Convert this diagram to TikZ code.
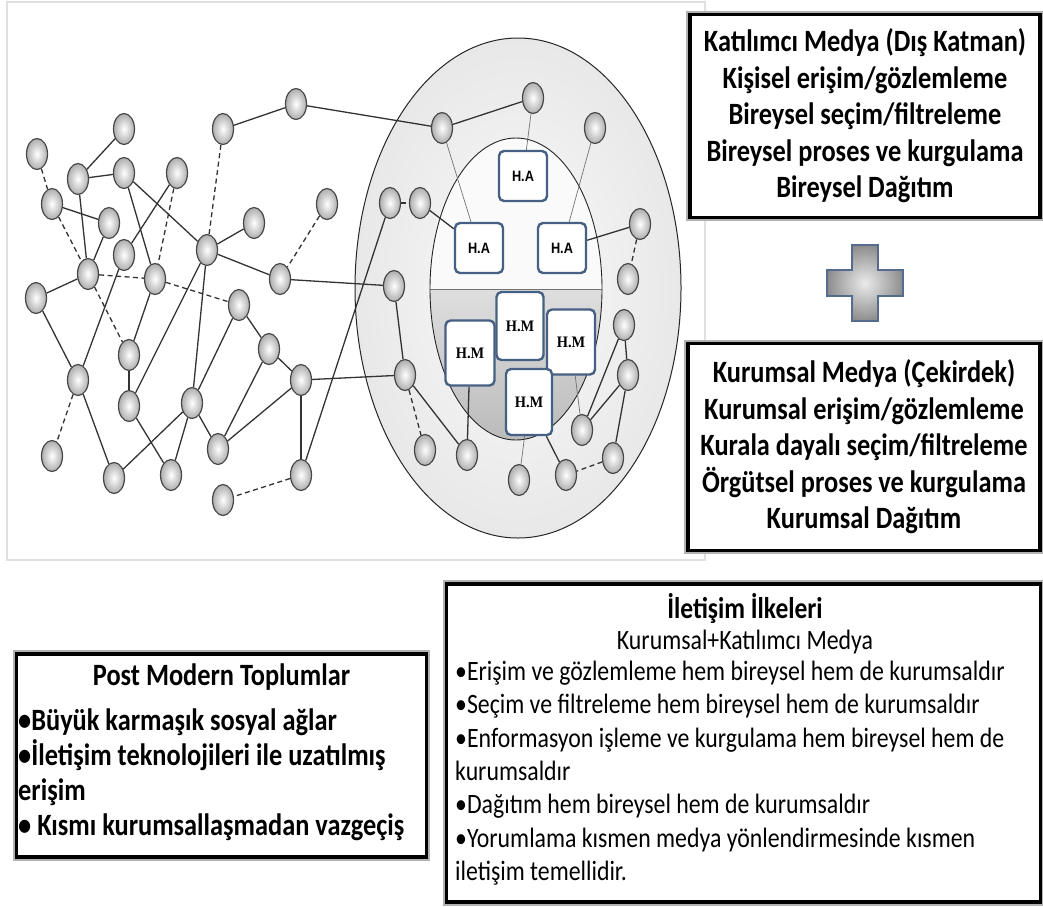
\documentclass[tikz,border=0pt]{standalone}
\usepackage{fontspec}
\setmainfont{Carlito}[FakeStretch=0.85]
\newfontfamily\hafont{Liberation Sans}[FakeStretch=0.85]
\newfontfamily\hmfont{Liberation Serif}[FakeStretch=0.9]
\usetikzlibrary{shapes.geometric}
\pgfdeclarelayer{back}
\pgfdeclarelayer{links}
\pgfsetlayers{back,links,main}
\definecolor{hborder}{RGB}{70,96,132}
\definecolor{plusborder}{RGB}{84,108,142}

\begin{document}
\begin{tikzpicture}[x=1pt,y=-1pt,
  peer/.style={ellipse,draw=black!72,line width=1.2pt,inner color=white,outer color=black!32,minimum width=21pt,minimum height=31pt,inner sep=0pt},
  link/.style={draw=black!80,line width=1.3pt},
  weak/.style={link,dash pattern=on 5pt off 3.5pt},
  faint/.style={draw=black!55,line width=0.7pt},
  habox/.style={draw=hborder,line width=2.4pt,rounded corners=5pt,fill=white,minimum width=48pt,minimum height=50pt,inner sep=0pt,font=\hafont\bfseries\fontsize{15}{15}\selectfont},
  hmbox/.style={habox,minimum height=65pt,font=\hmfont\bfseries\fontsize{16}{16}\selectfont},
  infobox/.style={draw=black,line width=3.2pt,preaction={draw=black!30,line width=7.5pt},fill=white,inner sep=0pt},
  boxtext/.style={font=\bfseries\fontsize{31}{36.5}\selectfont,align=center}]
\useasboundingbox (0,0) rectangle (1043,906);
\begin{pgfonlayer}{back}
\fill[white] (0,0) rectangle (1043,906);
\path[fill=white,draw=black!12,line width=1.5pt] (7,2) rectangle (705,560);
\path[inner color=black!2,outer color=black!9,draw=black!85,line width=1pt] (518,288) ellipse [x radius=163pt, y radius=250pt];
\path[fill=black!2] (516,289) ellipse [x radius=86pt, y radius=151pt];
\begin{scope}
\clip (516,289) ellipse [x radius=86pt, y radius=151pt];
\path[top color=black!13,bottom color=black!27] (420,289) rectangle (612,445);
\end{scope}
\draw[black!55,line width=0.8pt] (430,289) -- (602,289);
\draw[black!85,line width=0.9pt] (516,289) ellipse [x radius=86pt, y radius=151pt];
\end{pgfonlayer}
% social network
\node[peer] (soc-1) at (37,154) {};
\node[peer] (soc-2) at (124,129) {};
\node[peer] (soc-3) at (78,179) {};
\node[peer] (soc-4) at (124,173) {};
\node[peer] (soc-5) at (177,173) {};
\node[peer] (soc-6) at (223,129) {};
\node[peer] (soc-7) at (296,104) {};
\node[peer] (soc-8) at (52,204) {};
\node[peer] (soc-9) at (109,223) {};
\node[peer] (soc-10) at (124,255) {};
\node[peer] (soc-11) at (207,250) {};
\node[peer] (soc-12) at (254,223) {};
\node[peer] (soc-13) at (327,204) {};
\node[peer] (soc-14) at (88,274) {};
\node[peer] (soc-15) at (155,279) {};
\node[peer] (soc-16) at (280,279) {};
\node[peer] (soc-17) at (36,298) {};
\node[peer] (soc-18) at (239,305) {};
\node[peer] (soc-19) at (129,355) {};
\node[peer] (soc-20) at (269,349) {};
\node[peer] (soc-21) at (78,380) {};
\node[peer] (soc-22) at (301,380) {};
\node[peer] (soc-23) at (129,406) {};
\node[peer] (soc-24) at (192,403) {};
\node[peer] (soc-25) at (218,449) {};
\node[peer] (soc-26) at (52,456) {};
\node[peer] (soc-27) at (114,478) {};
\node[peer] (soc-28) at (171,475) {};
\node[peer] (soc-29) at (301,475) {};
\node[peer] (soc-30) at (223,500) {};
% outer layer
\node[peer] (ring-1) at (442,128) {};
\node[peer] (ring-2) at (533,98) {};
\node[peer] (ring-3) at (595,128) {};
\node[peer] (ring-4) at (390,203) {};
\node[peer] (ring-5) at (420,203) {};
\node[peer] (ring-6) at (640,224) {};
\node[peer] (ring-7) at (628,279) {};
\node[peer] (ring-8) at (394,286) {};
\node[peer] (ring-9) at (624,325) {};
\node[peer] (ring-10) at (405,375) {};
\node[peer] (ring-11) at (628,375) {};
\node[peer] (ring-12) at (582,430) {};
\node[peer] (ring-13) at (425,450) {};
\node[peer] (ring-14) at (467,455) {};
\node[peer] (ring-15) at (613,458) {};
\node[peer] (ring-16) at (519,480) {};
\node[peer] (ring-17) at (566,475) {};
% core
\node[habox] (ha-1) at (523,176) {H.A};
\node[habox] (ha-2) at (479,248) {H.A};
\node[habox] (ha-3) at (562,248) {H.A};
\node[hmbox,minimum width=49pt] (hm-1) at (470,353) {H.M};
\node[hmbox,minimum width=47pt,minimum height=68pt] (hm-2) at (520,326) {H.M};
\node[hmbox,minimum width=48pt] (hm-3) at (571,342) {H.M};
\node[hmbox,minimum width=46pt,minimum height=66pt] (hm-4) at (529,402) {H.M};
\begin{pgfonlayer}{links}
\draw[link] (soc-2) -- (soc-3);
\draw[link] (soc-3) -- (soc-4);
\draw[link] (soc-3) -- (soc-14);
\draw[link] (soc-4) -- (soc-11);
\draw[link] (soc-4) -- (soc-15);
\draw[link] (soc-5) -- (soc-10);
\draw[link] (soc-6) -- (soc-7);
\draw[link] (soc-7) -- (ring-1);
\draw[link] (soc-8) -- (soc-9);
\draw[link] (soc-9) -- (soc-14);
\draw[link] (soc-11) -- (soc-12);
\draw[link] (soc-11) -- (soc-16);
\draw[link] (soc-14) -- (soc-17);
\draw[link] (soc-17) -- (soc-21);
\draw[link] (soc-10) -- (soc-21);
\draw[link] (soc-15) -- (soc-19);
\draw[link] (soc-19) -- (soc-23);
\draw[link] (soc-11) -- (soc-23);
\draw[link] (soc-11) -- (soc-24);
\draw[link] (soc-18) -- (soc-24);
\draw[link] (soc-18) -- (soc-20);
\draw[link] (soc-20) -- (soc-22);
\draw[link] (soc-20) -- (soc-25);
\draw[link] (soc-22) -- (soc-25);
\draw[link] (soc-22) -- (soc-29);
\draw[link] (soc-16) -- (ring-8);
\draw[link] (soc-22) -- (ring-10);
\draw[link] (soc-29) -- (ring-4);
\draw[link] (soc-21) -- (soc-27);
\draw[link] (soc-23) -- (soc-28);
\draw[link] (soc-24) -- (soc-27);
\draw[link] (soc-24) -- (soc-28);
\draw[link] (soc-24) -- (soc-25);
\draw[weak] (soc-1) -- (soc-8);
\draw[weak] (soc-8) -- (soc-14);
\draw[weak] (soc-6) -- (soc-11);
\draw[weak] (soc-13) -- (soc-16);
\draw[weak] (soc-14) -- (soc-15);
\draw[weak] (soc-5) -- (soc-15);
\draw[weak] (soc-14) -- (soc-19);
\draw[weak] (soc-15) -- (soc-18);
\draw[weak] (soc-21) -- (soc-26);
\draw[weak] (soc-29) -- (soc-30);
\draw[link] (ring-1) -- (ring-2);
\draw[link] (ring-5) -- (ha-2);
\draw[link] (ring-6) -- (ha-3);
\draw[link] (ring-8) -- (ring-10);
\draw[link] (ring-10) -- (ring-14);
\draw[link] (hm-1) -- (ring-14);
\draw[link] (hm-4) -- (ring-17);
\draw[link] (ring-9) -- (ring-12);
\draw[link] (ring-11) -- (ring-12);
\draw[link] (ring-9) -- (ring-11);
\draw[link] (ring-11) -- (ring-15);
\draw[weak] (ring-4) -- (ring-5);
\draw[weak] (ring-6) -- (ring-7);
\draw[weak] (ring-10) -- (ring-13);
\draw[weak] (ring-15) -- (ring-17);
\draw[faint] (ring-2) -- (ha-1);
\draw[faint] (ring-1) -- (ha-2);
\draw[faint] (ring-3) -- (ha-3);
\draw[faint] (ring-16) -- (hm-4);
\draw[faint] (ring-12) -- (hm-3);
\end{pgfonlayer}
% text boxes
\node[infobox,boxtext,minimum width=350pt,minimum height=203pt] (box-katilimci) at (865,116) {Katılımcı Medya (Dış Katman)\\Kişisel erişim/gözlemleme\\Bireysel seçim/filtreleme\\Bireysel proses ve kurgulama\\Bireysel Dağıtım};
\path[draw=plusborder,line width=2pt,inner color=black!8,outer color=black!45] (852,245) -- (878,245) -- (878,270) -- (903,270) -- (903,296) -- (878,296) -- (878,321) -- (852,321) -- (852,296) -- (827,296) -- (827,270) -- (852,270) -- cycle;
\node[infobox,boxtext,minimum width=352pt,minimum height=207pt] (box-kurumsal) at (864,447) {Kurumsal Medya (Çekirdek)\\Kurumsal erişim/gözlemleme\\Kurala dayalı seçim/filtreleme\\Örgütsel proses ve kurgulama\\Kurumsal Dağıtım};
\node[infobox,minimum width=594pt,minimum height=318pt] (box-ilkeler) at (743.5,743) {};
\node[font=\bfseries\fontsize{30}{33}\selectfont,inner sep=0pt] (ilkeler-title) at (745,608) {İletişim İlkeleri};
\node[font=\fontsize{28}{33}\selectfont,inner sep=0pt] (ilkeler-sub) at (745,642) {Kurumsal+Katılımcı Medya};
\node[anchor=north west,align=left,font=\fontsize{28}{33.3}\selectfont,inner sep=0pt] (ilkeler-body) at (455,661) {•Erişim ve gözlemleme hem bireysel hem de kurumsaldır\\•Seçim ve filtreleme hem bireysel hem de kurumsaldır\\•Enformasyon işleme ve kurgulama hem bireysel hem de\\kurumsaldır\\•Dağıtım hem bireysel hem de kurumsaldır\\•Yorumlama kısmen medya yönlendirmesinde kısmen\\iletişim temellidir.};
\node[infobox,minimum width=410pt,minimum height=203pt] (box-postmodern) at (221.5,755.5) {};
\node[font=\bfseries\fontsize{31}{35}\selectfont,inner sep=0pt] (postmodern-title) at (221.5,677) {Post Modern Toplumlar};
\node[anchor=north west,align=left,font=\bfseries\fontsize{31}{35}\selectfont,inner sep=0pt] (postmodern-body) at (18,709) {•Büyük karmaşık sosyal ağlar\\•İletişim teknolojileri ile uzatılmış\\erişim\\• Kısmı kurumsallaşmadan vazgeçiş};
\end{tikzpicture}
\end{document}
